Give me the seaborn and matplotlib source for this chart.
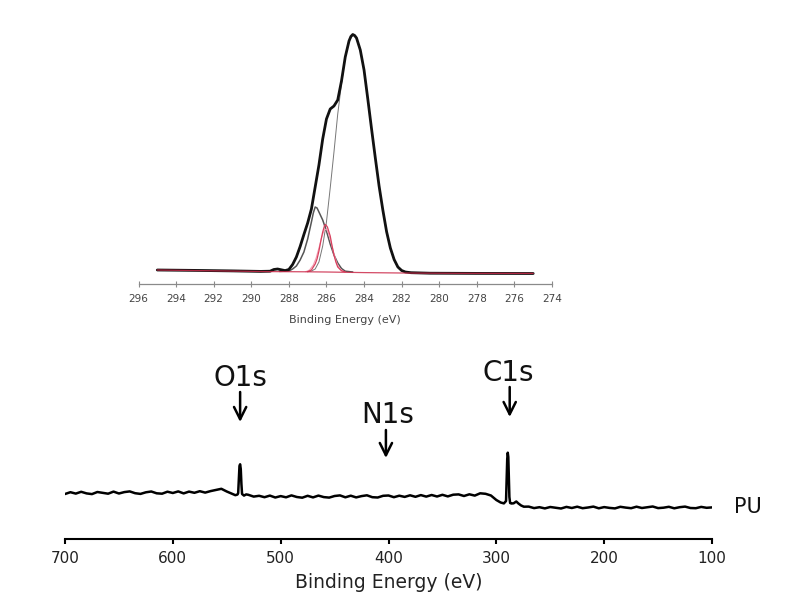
import matplotlib

matplotlib.use("Agg")
import matplotlib.pyplot as plt
import pandas as pd
import seaborn as sns


# ---- survey spectrum (binding energy in eV, counts in a.u.) ----
SURVEY_EV_HIGH = list(range(700, 540, -5))
SURVEY_I_HIGH = [45.0, 46.8, 45.4, 47.2, 45.6, 44.9, 47.0, 46.2, 45.3, 47.4, 45.5, 46.9,
                 47.6, 45.8, 45.1, 46.7, 47.5, 45.7, 45.3, 47.3, 46.0, 47.6, 45.6, 47.4,
                 46.2, 47.8, 46.4, 47.9, 49.0, 50.2, 47.5, 45.2]

O1S_EV = [542.0, 540.0, 539.4, 538.8, 538.2, 537.6, 537.0, 536.4, 535.8, 534.0, 532.0]
O1S_I = [43.8, 44.5, 46.0, 60.0, 73.0, 74.7, 70.0, 55.0, 45.0, 43.4, 44.6]

SURVEY_EV_MID = list(range(530, 315, -5)) + [315, 310, 305, 300, 296, 293]
SURVEY_I_MID = [44.2, 42.4, 43.2, 41.8, 43.4, 41.5, 42.9, 41.7, 43.6, 42.0, 41.3, 43.2,
                41.6, 43.4, 41.9, 41.4, 43.0, 43.6, 41.7, 43.3, 41.6, 42.9, 43.7, 41.8,
                41.5, 43.2, 43.5, 41.8, 43.3, 42.1, 43.7, 42.2, 43.9, 42.4, 44.0, 42.5,
                44.2, 42.6, 44.3, 44.6, 43.0, 44.7, 43.4,
                45.7, 45.2, 43.5, 39.0, 36.5, 35.6]

C1S_EV = [291.0, 290.4, 289.9, 289.4, 288.9, 288.4, 287.9, 287.2, 286.0, 284.0,
          281.5, 279.5, 277.0, 274.5]
C1S_I = [38.0, 60.0, 80.0, 86.3, 82.0, 62.0, 42.0, 36.0, 35.5, 35.7,
         37.5, 35.5, 33.5, 32.3]

SURVEY_EV_LOW = list(range(270, 95, -5))
SURVEY_I_LOW = [32.4, 30.9, 31.8, 30.6, 32.0, 31.2, 30.5, 32.1, 31.0, 32.3, 30.8, 31.5,
                32.4, 30.7, 31.9, 31.1, 30.6, 32.2, 31.4, 30.8, 32.3, 31.0, 31.7, 32.5,
                30.9, 31.3, 32.2, 30.7, 31.8, 32.4, 31.0, 30.8, 32.1, 31.2, 31.6]

PEAK_LABELS = ["O1s", "N1s", "C1s"]
PEAK_LABEL_EV = [537.6, 401.0, 289.0]
PEAK_ARROW_EV = [537.6, 402.4, 287.6]

# ---- C1s high-resolution inset ----
ENV_EV = [295.0, 293.0, 291.0, 289.5, 289.0, 288.8, 288.6, 288.4, 288.2, 288.0, 287.8,
          287.6, 287.4, 287.2, 287.0, 286.8, 286.6, 286.4, 286.2, 286.0, 285.8, 285.6,
          285.4, 285.2, 285.0, 284.8, 284.7, 284.6, 284.5, 284.4, 284.2, 284.0, 283.8,
          283.6, 283.4, 283.2, 283.0, 282.8, 282.6, 282.4, 282.2, 282.0, 281.8, 281.5,
          280.5, 278.0, 275.0]
ENV_I = [14.0, 13.6, 13.1, 12.6, 12.8, 14.5, 15.0, 14.2, 13.4, 14.5, 19.5,
         27.0, 37.5, 49.5, 61.0, 75.0, 97.0, 119.0, 145.0, 165.0, 175.0, 178.0,
         184.0, 203.0, 227.0, 243.0, 247.5, 249.5, 248.5, 246.0, 234.0, 214.0, 185.0,
         155.0, 126.0, 98.0, 74.0, 52.3, 36.0, 24.5, 17.0, 13.5, 12.0, 11.3,
         10.8, 10.6, 10.5]

MAIN_EV = [287.0, 286.8, 286.6, 286.4, 286.2, 286.0, 285.8, 285.6, 285.4, 285.2, 285.0,
           284.8, 284.6, 284.4, 284.2, 284.0, 283.8, 283.6, 283.4, 283.2, 283.0, 282.8,
           282.6, 282.4, 282.2, 282.0, 281.8, 281.5]
MAIN_I = [12.3, 13.0, 15.0, 22.0, 38.0, 62.0, 96.0, 132.0, 170.0, 200.0, 227.0,
          243.0, 249.0, 246.0, 234.0, 214.0, 185.0, 155.0, 126.0, 98.0, 74.0, 52.3,
          36.0, 24.5, 17.0, 13.5, 12.0, 11.3]

COMP2_EV = [288.5, 288.0, 287.8, 287.6, 287.4, 287.2, 287.0, 286.8, 286.7, 286.6, 286.5,
            286.4, 286.2, 286.0, 285.8, 285.6, 285.4, 285.2, 285.0, 284.6]
COMP2_I = [12.6, 13.0, 15.0, 18.0, 24.0, 32.0, 45.0, 62.0, 71.0, 77.0, 76.0,
           72.0, 64.0, 53.0, 40.0, 29.0, 21.0, 15.5, 12.8, 12.0]

RED_EV = [287.0, 286.8, 286.6, 286.5, 286.4, 286.3, 286.2, 286.1, 286.05, 285.95, 285.8,
          285.7, 285.6, 285.5, 285.4, 285.2, 285.0]
RED_I = [12.3, 14.0, 20.0, 25.0, 33.0, 43.0, 52.0, 58.5, 59.5, 57.0, 48.0,
         38.0, 29.0, 22.0, 17.0, 13.2, 12.2]

PINK_EV = [287.1, 286.9, 286.7, 286.55, 286.4, 286.25, 286.12, 286.0, 285.9, 285.75,
           285.6, 285.45, 285.3, 285.1]
PINK_I = [12.3, 14.0, 19.0, 26.0, 36.0, 47.0, 54.0, 55.0, 51.0, 41.0,
          30.0, 21.0, 15.5, 12.5]

BG_EV = [295.0, 292.0, 289.0, 287.0, 286.0, 284.0, 282.0, 279.0, 275.0]
BG_I = [14.0, 13.2, 12.4, 12.2, 12.0, 11.4, 11.0, 10.7, 10.6]

INSET_TICKS = list(range(296, 272, -2))
SURVEY_TICKS = [700, 600, 500, 400, 300, 200, 100]


def draw_line(ax, x, y, **kw):
    df = pd.DataFrame({"ev": x, "counts": y})
    sns.lineplot(data=df, x="ev", y="counts", ax=ax, sort=False, estimator=None, **kw)


def main() -> None:
    sns.set_theme(style="white")
    plt.rcParams["font.family"] = ["DejaVu Sans"]

    fig = plt.figure(figsize=(8.01, 6.09), dpi=100)

    # survey axes
    ax = fig.add_axes([65 / 801, 70 / 609, 647 / 801, 189 / 609])
    survey_ev = SURVEY_EV_HIGH + O1S_EV + SURVEY_EV_MID + C1S_EV + SURVEY_EV_LOW
    survey_i = SURVEY_I_HIGH + O1S_I + SURVEY_I_MID + C1S_I + SURVEY_I_LOW
    draw_line(ax, survey_ev, survey_i, color="black", linewidth=1.8)
    ax.set_xlim(700, 100)
    ax.set_ylim(0, 189)
    ax.set_xticks(SURVEY_TICKS)
    ax.set_yticks([])
    for side in ["top", "right", "left"]:
        ax.spines[side].set_visible(False)
    ax.spines["bottom"].set_color("black")
    ax.spines["bottom"].set_linewidth(1.5)
    ax.tick_params(axis="x", direction="out", length=3.6, width=1.5, color="black",
                   pad=5, labelsize=11, labelcolor="#222222", bottom=True)
    ax.set_xlabel("Binding Energy (eV)", fontsize=13.5, labelpad=5, color="#222222")
    ax.set_ylabel("")

    label_y = [161, 124, 166]
    arrow_top = [147, 109, 152]
    arrow_bot = [117, 81, 122]
    for name, lx, axx, ly, at, ab in zip(PEAK_LABELS, PEAK_LABEL_EV, PEAK_ARROW_EV,
                                         label_y, arrow_top, arrow_bot):
        ax.text(lx, ly, name, ha="center", va="center", fontsize=20, color="#111111")
        ax.annotate("", xy=(axx, ab), xytext=(axx, at),
                    arrowprops=dict(arrowstyle="->", color="black", lw=1.8,
                                    mutation_scale=22, shrinkA=0, shrinkB=0))
    ax.text(80, 32, "PU", ha="left", va="center", fontsize=15, color="#111111",
            clip_on=False)

    # C1s inset axes
    ins = fig.add_axes([138.5 / 801, 325 / 609, 413.5 / 801, 254 / 609])
    draw_line(ins, ENV_EV, ENV_I, color="#111111", linewidth=2.0, zorder=3)
    draw_line(ins, MAIN_EV, MAIN_I, color="#777777", linewidth=0.7, zorder=2)
    draw_line(ins, COMP2_EV, COMP2_I, color="#555555", linewidth=1.1, zorder=2)
    draw_line(ins, PINK_EV, PINK_I, color="#f2a0b4", linewidth=0.8, zorder=2)
    draw_line(ins, RED_EV, RED_I, color="#d8405e", linewidth=0.9, zorder=4)
    draw_line(ins, BG_EV, BG_I, color="#cc2a4a", linewidth=0.9, alpha=0.85, zorder=4)
    ins.set_xlim(296, 274)
    ins.set_ylim(0, 254)
    ins.set_xticks(INSET_TICKS)
    ins.set_yticks([])
    ins.patch.set_alpha(0)
    for side in ["top", "right", "left"]:
        ins.spines[side].set_visible(False)
    ins.spines["bottom"].set_color("#8a8a8a")
    ins.spines["bottom"].set_linewidth(0.9)
    ins.tick_params(axis="x", direction="inout", length=4, width=0.8, color="#8a8a8a",
                    pad=5, labelsize=7.5, labelcolor="#444444", bottom=True)
    ins.set_xlabel("Binding Energy (eV)", fontsize=8, labelpad=8, color="#444444")
    ins.set_ylabel("")

    fig.savefig("out.png", dpi=100)
    plt.close(fig)


if __name__ == "__main__":
    main()
